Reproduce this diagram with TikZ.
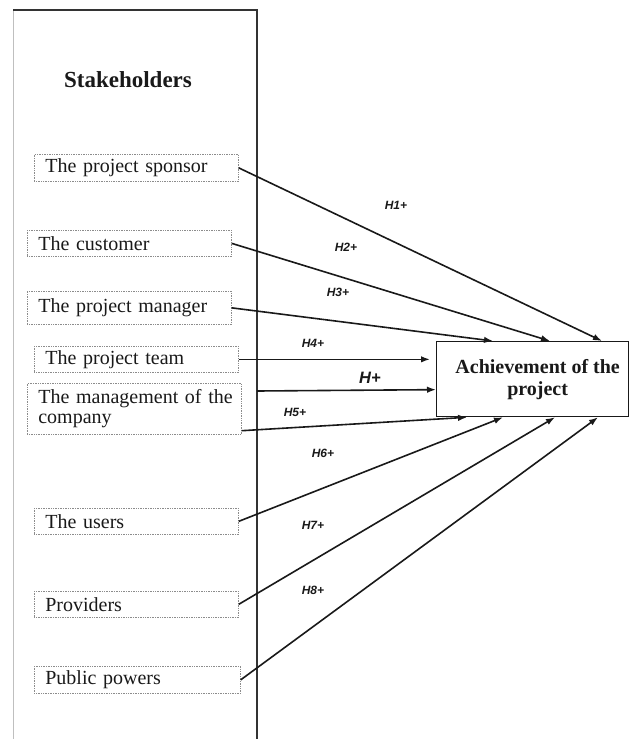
\documentclass[tikz,border=0pt]{standalone}
\usepackage{fontspec}
\setmainfont{Liberation Serif}
\newfontfamily\hypfont{Liberation Sans}
\usetikzlibrary{arrows.meta, positioning, calc}
\definecolor{framec}{HTML}{333333}
\definecolor{dotc}{HTML}{8C8C8C}

\begin{document}
\begin{tikzpicture}[x=1pt, y=-1pt, >={Latex[length=9pt, width=6.5pt]},
          line width=1.6pt, black!90,
          sbox/.style={draw=dotc, densely dotted, line width=0.7pt,
            anchor=north west, inner xsep=11pt, inner ysep=2pt, align=left,
            font=\fontsize{20}{20}\selectfont},
          hyp/.style={font=\hypfont\bfseries\itshape\fontsize{12}{13}\selectfont}]
        \useasboundingbox (0,0) rectangle (630,739);
        % column of the stakeholders
        \draw[line width=0.6pt, black!25] (13,739) -- (13,10);
        \draw[line width=1.5pt, framec] (13,10) -- (257,10) -- (257,739);
        \node[font=\bfseries\fontsize{23}{24}\selectfont] (title) at (128,80)
              {Stakeholders};
        \foreach \nm/\px/\py/\bw/\bh/\txt in {spon/34/154/204/27/The project sponsor,
            cust/27/230/204/26/The customer, mgr/27/291/204/33/The project manager,
            team/34/346/204/26/The project team,
            mgmt/27/383/214/51/{\mbox{The management of the}\\company},
            users/34/508/204/26/The users, prov/34/591/204/26/Providers,
            pub/34/666/206/27/Public powers}{
          \pgfmathsetmacro\tw{\bw-22}
          \node[sbox, text width=\tw pt, minimum height=\bh pt] (\nm) at (\px,\py)
                {\txt};
        }
        \node[draw, line width=1.3pt, minimum width=192pt, minimum height=75pt,
              anchor=north west, align=center,
              font=\bfseries\fontsize{20}{22}\selectfont] (ach) at (436,341)
              {\hspace*{10pt}Achievement of the\\\hspace*{10pt}project};
        % hypotheses
        \foreach \s/\dx in {spon/166, cust/114, mgr/57}
          \draw[->] (\s.east) -- ([xshift=\dx pt]ach.north west);
        \coordinate (t4) at ([xshift=-6pt]ach.west);
        \draw[->] (team.east) -- (team.east -| t4);
        \coordinate (hp) at (257,391);
        \draw[->] (hp) -- ([yshift=-10.5pt]ach.west);
        \draw[->] ([yshift=4pt]mgmt.south east) -- ([xshift=31pt]ach.south west);
        \foreach \s/\dx in {users/67, prov/119, pub/162}
          \draw[->] (\s.east) -- ([xshift=\dx pt]ach.south west);
        \foreach \k/\lx/\ly in {1/396/205, 2/346/247, 3/338/292, 4/313/343,
            5/295/412, 6/323/453, 7/313/525, 8/313/590}
          \node[hyp] (h\k) at (\lx,\ly) {H\k+};
        \node[hyp, font=\hypfont\bfseries\itshape\fontsize{16.5}{17}\selectfont]
              (hplus) at (370,378) {H+};
      \end{tikzpicture}
\end{document}
